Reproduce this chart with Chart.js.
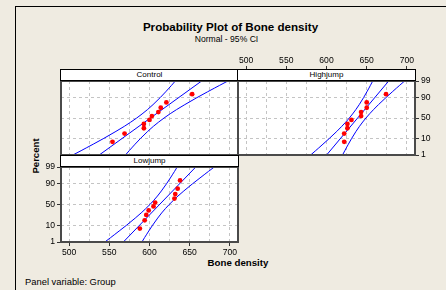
<!DOCTYPE html>
<html>
<head>
<meta charset="utf-8">
<script src="https://cdn.jsdelivr.net/npm/chart.js@4.4.1/dist/chart.umd.min.js"></script>
<style>
  html, body { margin: 0; padding: 0; }
  body {
    width: 446px; height: 290px; overflow: hidden; position: relative;
    background: #efebe1; font-family: "Liberation Sans", Arial, sans-serif; color: #000;
  }
  .frame { position: absolute; left: 15px; top: 6px; width: 500px; height: 400px;
    border-left: 1px solid #000; border-top: 1px solid #000; }
  .txt { position: absolute; white-space: nowrap; line-height: 1; transform: translate(-50%, -50%); }
  canvas { position: absolute; }
  .strip { position: absolute; background: #fff; border: 1px solid #000; box-sizing: border-box;
    font-size: 8px; text-align: center; line-height: 10px; }
</style>
</head>
<body>
<div class="frame"></div>
<div class="txt" style="left:230.5px; top:27px; font-weight:bold; font-size:11.6px;">Probability Plot of Bone density</div>
<div class="txt" style="left:226.5px; top:39px; font-size:8.6px;">Normal - 95% CI</div>
<div class="txt" style="left:36px; top:156px; font-weight:bold; font-size:9.6px; transform: translate(-50%, -50%) rotate(-90deg);">Percent</div>
<div class="txt" style="left:238px; top:263px; font-weight:bold; font-size:9.7px;">Bone density</div>
<div class="txt" style="left:25px; top:282px; font-size:9.4px; transform: translate(0, -50%);">Panel variable: Group</div>

<script>
// groups (panels)
const groupNames = ['Control', 'Highjump', 'Lowjump'];

// sorted bone density values per group
const controlDensity = [554, 569, 593, 593, 600, 603, 611, 614, 621, 653];
const highjumpDensity = [622, 622, 626, 626, 631, 643, 643, 650, 650, 674];
const lowjumpDensity = [588, 594, 596, 599, 605, 607, 631, 632, 635, 638];

// plotting positions (percent) for the 10 ordered points
const plotPercent = [6.73, 16.35, 25.96, 35.58, 45.19, 54.81, 64.42, 74.04, 83.65, 93.27];

// fitted line, ends at 1% and 99%
const fitPercent = [1, 99];
const controlFit = [537.5, 664.8];
const highjumpFit = [600.1, 677.3];
const lowjumpFit = [567.5, 657.5];

// 95% CI bands
const bandPercent = [1, 2, 3, 5, 10, 20, 30, 50, 70, 80, 90, 95, 97, 98, 99];
const controlLower = [504.8, 515.0, 521.4, 530.1, 543.2, 558.3, 568.7, 584.1, 597.4, 604.4, 613.3, 620.1, 624.3, 627.4, 632.1];
const controlUpper = [570.1, 574.8, 577.9, 582.1, 588.9, 597.8, 604.8, 618.1, 633.5, 643.9, 659.0, 672.1, 680.8, 687.2, 697.4];
const highjumpLower = [580.3, 586.5, 590.4, 595.6, 603.6, 612.8, 619.0, 628.4, 636.4, 640.7, 646.1, 650.2, 652.8, 654.6, 657.5];
const highjumpUpper = [619.9, 622.8, 624.6, 627.2, 631.3, 636.7, 641.0, 649.0, 658.4, 664.6, 673.9, 681.8, 687.0, 690.9, 697.1];
const lowjumpLower = [544.5, 551.7, 556.2, 562.3, 571.6, 582.3, 589.6, 600.5, 609.9, 614.8, 621.1, 625.9, 628.9, 631.1, 634.4];
const lowjumpUpper = [590.6, 593.9, 596.1, 599.1, 603.9, 610.2, 615.1, 624.5, 635.4, 642.7, 653.4, 662.7, 668.8, 673.3, 680.5];

// axis ticks
const xTickValues = [500, 525, 550, 575, 600, 625, 650, 675, 700];
const percentTicks = [1, 10, 50, 90, 99];

// inverse normal cdf (Acklam) for the probability axis
function probit(p) {
  const a = [-3.969683028665376e+01, 2.209460984245205e+02, -2.759285104469687e+02, 1.383577518672690e+02, -3.066479806614716e+01, 2.506628277459239e+00];
  const b = [-5.447609879822406e+01, 1.615858368580409e+02, -1.556989798598866e+02, 6.680131188771972e+01, -1.328068155288572e+01];
  const c = [-7.784894002430293e-03, -3.223964580411365e-01, -2.400758277161838e+00, -2.549732539343734e+00, 4.374664141464968e+00, 2.938163982698783e+00];
  const d = [7.784695709041462e-03, 3.224671290700398e-01, 2.445134137142996e+00, 3.754408661907416e+00];
  const plow = 0.02425;
  if (p < plow) {
    const q = Math.sqrt(-2 * Math.log(p));
    return (((((c[0]*q+c[1])*q+c[2])*q+c[3])*q+c[4])*q+c[5]) / ((((d[0]*q+d[1])*q+d[2])*q+d[3])*q+1);
  }
  if (p > 1 - plow) {
    const q = Math.sqrt(-2 * Math.log(1 - p));
    return -(((((c[0]*q+c[1])*q+c[2])*q+c[3])*q+c[4])*q+c[5]) / ((((d[0]*q+d[1])*q+d[2])*q+d[3])*q+1);
  }
  const q = p - 0.5, r = q * q;
  return (((((a[0]*r+a[1])*r+a[2])*r+a[3])*r+a[4])*r+a[5])*q / (((((b[0]*r+b[1])*r+b[2])*r+b[3])*r+b[4])*r+1);
}

class ProbabilityScale extends Chart.Scale {
  determineDataLimits() {
    this.min = this.options.min;
    this.max = this.options.max;
  }
  buildTicks() {
    return percentTicks.map(v => ({ value: v }));
  }
  getLabelForValue(v) { return String(v); }
  configure() {
    super.configure();
    this._zMin = probit(this.min / 100);
    this._zMax = probit(this.max / 100);
  }
  getPixelForValue(v) {
    const z = probit(v / 100);
    return this.getPixelForDecimal((z - this._zMin) / (this._zMax - this._zMin));
  }
  getValueForPixel(px) {
    // bisection, only needed for completeness
    const target = this.getDecimalForPixel(px);
    let lo = this.min, hi = this.max;
    for (let i = 0; i < 40; i++) {
      const mid = (lo + hi) / 2;
      const dec = (probit(mid / 100) - this._zMin) / (this._zMax - this._zMin);
      if (dec < target) lo = mid; else hi = mid;
    }
    return (lo + hi) / 2;
  }
}
ProbabilityScale.id = 'probability';
ProbabilityScale.defaults = {};
Chart.register(ProbabilityScale);

Chart.defaults.font.family = '"Liberation Sans", Arial, sans-serif';
Chart.defaults.font.size = 8.6;
Chart.defaults.color = '#000';

const panelBox = {
  id: 'panelBox',
  beforeDraw(chart) {
    const { ctx, chartArea: a } = chart;
    ctx.save();
    ctx.fillStyle = '#fff';
    ctx.fillRect(a.left, a.top, a.width, a.height);
    ctx.restore();
  },
  afterDraw(chart) {
    const { ctx, chartArea: a } = chart;
    ctx.save();
    ctx.strokeStyle = '#4a4a4a';
    ctx.lineWidth = 2;
    ctx.strokeRect(a.left, a.top, a.width, a.height);
    ctx.restore();
  }
};

const M = 40;   // canvas margin around plot area
const AX = 30;  // fixed axis box size
const STRIP = 12;

function pts(xs, ys) {
  return xs.map((x, i) => ({ x: x, y: ys[i] }));
}

function makePanel(box, densities, fit, lower, upper, xPos, yPos, showX, showY) {
  const canvas = document.createElement('canvas');
  canvas.width = box.r - box.l + 2 * M;
  canvas.height = box.b - box.t + 2 * M;
  canvas.style.left = (box.l - M) + 'px';
  canvas.style.top = (box.t - M) + 'px';
  document.body.appendChild(canvas);

  const pad = { left: M, right: M, top: M, bottom: M };
  pad[xPos] -= AX;
  pad[yPos] -= AX;

  const line = { showLine: true, pointRadius: 0, borderColor: '#0000ff', borderWidth: 1, fill: false };

  new Chart(canvas, {
    type: 'scatter',
    data: {
      datasets: [
        { data: pts(densities, plotPercent), showLine: false, pointRadius: 2.4,
          backgroundColor: '#ff0000', borderWidth: 0, pointStyle: 'circle' },
        Object.assign({ data: pts(fit, fitPercent) }, line),
        Object.assign({ data: pts(lower, bandPercent), cubicInterpolationMode: 'monotone' }, line),
        Object.assign({ data: pts(upper, bandPercent), cubicInterpolationMode: 'monotone' }, line)
      ]
    },
    options: {
      responsive: false,
      animation: false,
      events: [],
      layout: { padding: pad },
      plugins: { legend: { display: false }, tooltip: { enabled: false } },
      scales: {
        x: {
          type: 'linear', position: xPos, min: 490, max: 710,
          afterBuildTicks: s => { s.ticks = xTickValues.map(v => ({ value: v })); },
          afterFit: s => { s.height = AX; },
          grid: {
            color: '#c4c4c4',
            drawTicks: showX,
            tickLength: xPos === 'top' ? STRIP + 3 : 4,
            tickColor: c => (c.tick && c.tick.value % 50 === 0) ? '#333' : 'rgba(0,0,0,0)'
          },
          border: { display: false, dash: [3, 3] },
          ticks: {
            display: showX, autoSkip: false, maxRotation: 0,
            padding: xPos === 'top' ? 0 : 1,
            callback: v => (v % 50 === 0 ? String(v) : '')
          }
        },
        y: {
          type: 'probability', position: yPos, min: 1, max: 99,
          afterFit: s => { s.width = AX; },
          grid: { color: '#c4c4c4', drawTicks: showY, tickLength: 4, tickColor: '#333' },
          border: { display: false, dash: [3, 3] },
          ticks: { display: showY, padding: 2 }
        }
      }
    },
    plugins: [panelBox]
  });
}

const colL = [61, 238];
const colW = 177;
const rows = [
  { strip: 69, t: 81, b: 155 },
  { strip: 155, t: 167, b: 242 }
];

const panels = [
  { name: groupNames[0], col: 0, row: 0, d: controlDensity, f: controlFit, lo: controlLower, up: controlUpper, xPos: 'bottom', yPos: 'left', sx: false, sy: false },
  { name: groupNames[1], col: 1, row: 0, d: highjumpDensity, f: highjumpFit, lo: highjumpLower, up: highjumpUpper, xPos: 'top', yPos: 'right', sx: true, sy: true },
  { name: groupNames[2], col: 0, row: 1, d: lowjumpDensity, f: lowjumpFit, lo: lowjumpLower, up: lowjumpUpper, xPos: 'bottom', yPos: 'left', sx: true, sy: true }
];

panels.forEach(p => {
  const r = rows[p.row];
  const box = { l: colL[p.col], r: colL[p.col] + colW, t: r.t, b: r.b };
  makePanel(box, p.d, p.f, p.lo, p.up, p.xPos, p.yPos, p.sx, p.sy);
});

// strip headers on top of the canvases
panels.forEach(p => {
  const r = rows[p.row];
  const s = document.createElement('div');
  s.className = 'strip';
  s.style.left = (colL[p.col] - 1) + 'px';
  s.style.top = r.strip + 'px';
  s.style.width = (colW + 2) + 'px';
  s.style.height = STRIP + 'px';
  s.textContent = p.name;
  document.body.appendChild(s);
});
</script>
</body>
</html>
